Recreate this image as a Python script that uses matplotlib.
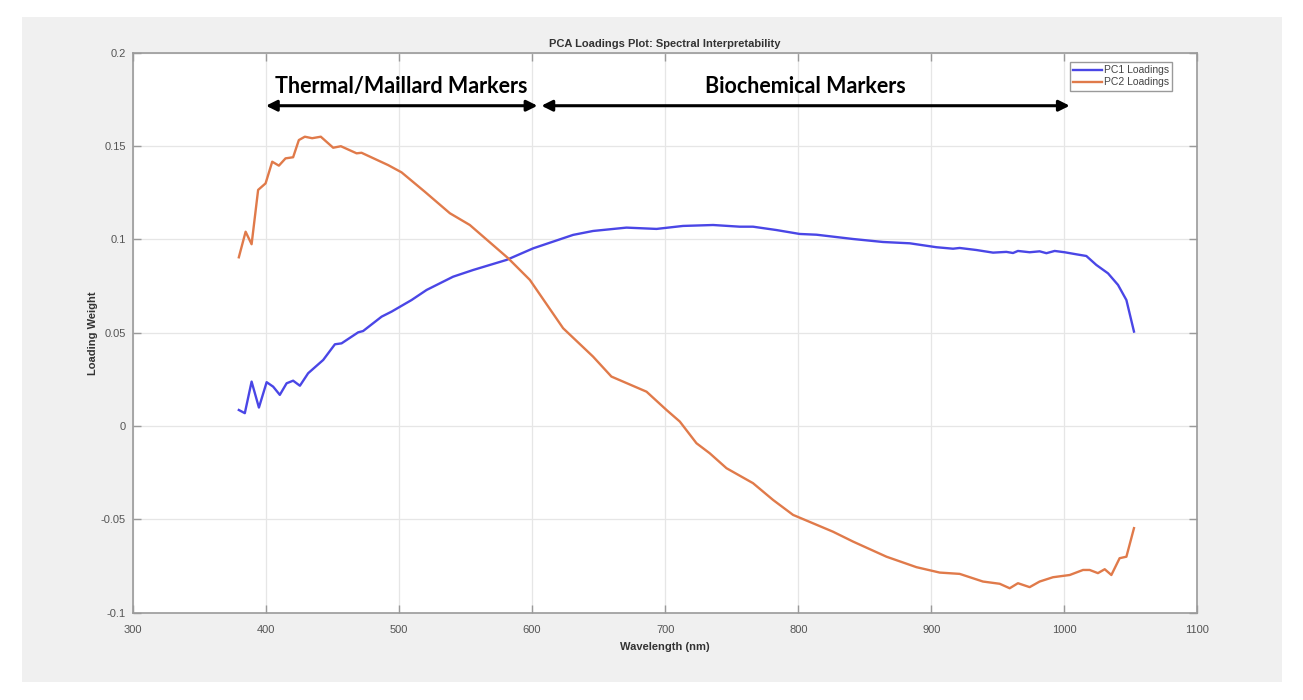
import numpy as np
import matplotlib
matplotlib.use("Agg")
import matplotlib.pyplot as plt
from matplotlib.patches import Rectangle
from matplotlib.ticker import FuncFormatter

# values
pc1_wl = [379.6, 384.1, 389.2, 394.7, 400.5, 405.4, 410.4, 415.5, 420.4, 425.5,
          431.7, 443.0, 451.8, 456.8, 469.3, 473.0, 486.9, 494.4, 503.1, 509.4,
          520.7, 540.6, 555.7, 580.8, 600.8, 630.8, 645.8, 670.9, 693.5, 713.4,
          736.0, 756.0, 766.0, 783.6, 801.1, 813.7, 841.2, 863.7, 883.8, 903.8,
          916.3, 921.3, 933.9, 946.4, 956.4, 961.4, 965.1, 973.9, 981.4, 986.5,
          992.7, 1000.2, 1009.0, 1016.5, 1024.0, 1032.8, 1040.3, 1046.6, 1052.3]
pc1_load = [0.0086, 0.0069, 0.0238, 0.0099, 0.0235, 0.0211, 0.0167, 0.0229, 0.0243, 0.0216,
            0.0283, 0.0354, 0.0438, 0.0443, 0.0502, 0.0509, 0.0586, 0.0613, 0.0649, 0.0675,
            0.0729, 0.0800, 0.0836, 0.0890, 0.0952, 0.1024, 0.1045, 0.1063, 0.1056, 0.1072,
            0.1077, 0.1068, 0.1068, 0.1050, 0.1029, 0.1025, 0.1002, 0.0986, 0.0979, 0.0958,
            0.0950, 0.0954, 0.0943, 0.0929, 0.0933, 0.0927, 0.0938, 0.0931, 0.0936, 0.0926,
            0.0938, 0.0931, 0.0920, 0.0911, 0.0863, 0.0818, 0.0756, 0.0675, 0.0506]

pc2_wl = [379.6, 384.7, 389.2, 394.1, 399.7, 404.7, 409.7, 414.7, 420.4, 424.7,
          429.2, 434.7, 441.2, 450.5, 456.3, 468.1, 471.8, 491.8, 501.9, 519.4,
          538.2, 553.2, 582.0, 598.3, 623.3, 645.8, 659.6, 686.0, 701.0, 711.0,
          723.5, 733.5, 746.1, 766.0, 781.1, 796.1, 811.1, 826.1, 841.2, 866.3,
          888.8, 906.3, 921.3, 938.8, 951.4, 958.9, 965.1, 973.9, 981.4, 991.4,
          1004.0, 1014.0, 1019.0, 1025.2, 1030.3, 1035.3, 1041.5, 1046.6, 1052.3]
pc2_load = [0.0904, 0.1041, 0.0974, 0.1265, 0.1300, 0.1416, 0.1395, 0.1434, 0.1440, 0.1532,
            0.1550, 0.1542, 0.1550, 0.1491, 0.1499, 0.1461, 0.1464, 0.1398, 0.1359, 0.1255,
            0.1140, 0.1077, 0.0899, 0.0783, 0.0524, 0.0372, 0.0265, 0.0184, 0.0086, 0.0024,
            -0.0092, -0.0146, -0.0226, -0.0306, -0.0396, -0.0476, -0.0521, -0.0566, -0.0619, -0.0700,
            -0.0756, -0.0785, -0.0792, -0.0833, -0.0845, -0.0869, -0.0842, -0.0863, -0.0833, -0.0810,
            -0.0798, -0.0771, -0.0771, -0.0788, -0.0767, -0.0798, -0.0708, -0.0700, -0.0547]

regions = ["Thermal/Maillard Markers", "Biochemical Markers"]
region_spans = [(400, 604), (607, 1004)]

x_ticks = [300, 400, 500, 600, 700, 800, 900, 1000, 1100]
y_ticks = [-0.1, -0.05, 0, 0.05, 0.1, 0.15, 0.2]

plt.rcParams["font.family"] = ["Liberation Sans", "DejaVu Sans"]

fig = plt.figure(figsize=(13.03, 7.0), dpi=100, facecolor="white")
# grey matlab-like figure background, kept behind the axes
bg = Rectangle((0.0169, 0.0257), 0.967, 0.95, transform=fig.transFigure,
               facecolor="#f0f0f0", edgecolor="none", zorder=-10)
fig.add_artist(bg)

ax = fig.add_axes([0.102, 0.1247, 0.817, 0.800])
ax.set_facecolor("white")

ax.plot(pc1_wl, pc1_load, color="#4a46e6", lw=1.7, label="PC1 Loadings")
ax.plot(pc2_wl, pc2_load, color="#e07a4a", lw=1.7, label="PC2 Loadings")

ax.set_xlim(300, 1100)
ax.set_ylim(-0.1, 0.2)
ax.set_xticks(x_ticks)
ax.set_yticks(y_ticks)
ax.yaxis.set_major_formatter(FuncFormatter(lambda v, p: "%g" % round(v, 3)))
ax.grid(True, color="#e6e6e6", lw=0.9)
ax.set_axisbelow(True)

for s in ax.spines.values():
    s.set_color("#9a9a9a")
    s.set_linewidth(1.2)
ax.tick_params(direction="in", length=6, width=1, colors="#9a9a9a",
               top=True, right=True, labelsize=8, labelcolor="#555555")
ax.tick_params(axis="x", pad=9)
ax.tick_params(axis="y", pad=5)

ax.set_title("PCA Loadings Plot: Spectral Interpretability", fontsize=8, fontweight="bold",
             color="#333333", pad=4)
ax.set_xlabel("Wavelength (nm)", fontsize=8, fontweight="bold", color="#333333", labelpad=5)
ax.set_ylabel("Loading Weight", fontsize=8, fontweight="bold", color="#333333", labelpad=2)

leg = ax.legend(loc="upper right", bbox_to_anchor=(0.976, 0.983), borderaxespad=0,
                fontsize=7.5, handlelength=2.7, handletextpad=0.2, borderpad=0.3,
                labelspacing=0.2, fancybox=False, framealpha=1)
leg.get_frame().set_edgecolor("#9a9a9a")
for t in leg.get_texts():
    t.set_color("#444444")

# region arrows and labels
for name, (x0, x1) in zip(regions, region_spans):
    ax.annotate("", xy=(x0, 0.1716), xytext=(x1, 0.1716),
                arrowprops=dict(arrowstyle="<|-|>", color="black", lw=2.2,
                                mutation_scale=16, shrinkA=0, shrinkB=0))
    ax.text((x0 + x1) / 2, 0.1818, name, ha="center", va="center", fontsize=15.5,
            fontweight="bold", family=["Lato", "DejaVu Sans"], color="black")

fig.savefig("out.png", dpi=100, facecolor=fig.get_facecolor())
